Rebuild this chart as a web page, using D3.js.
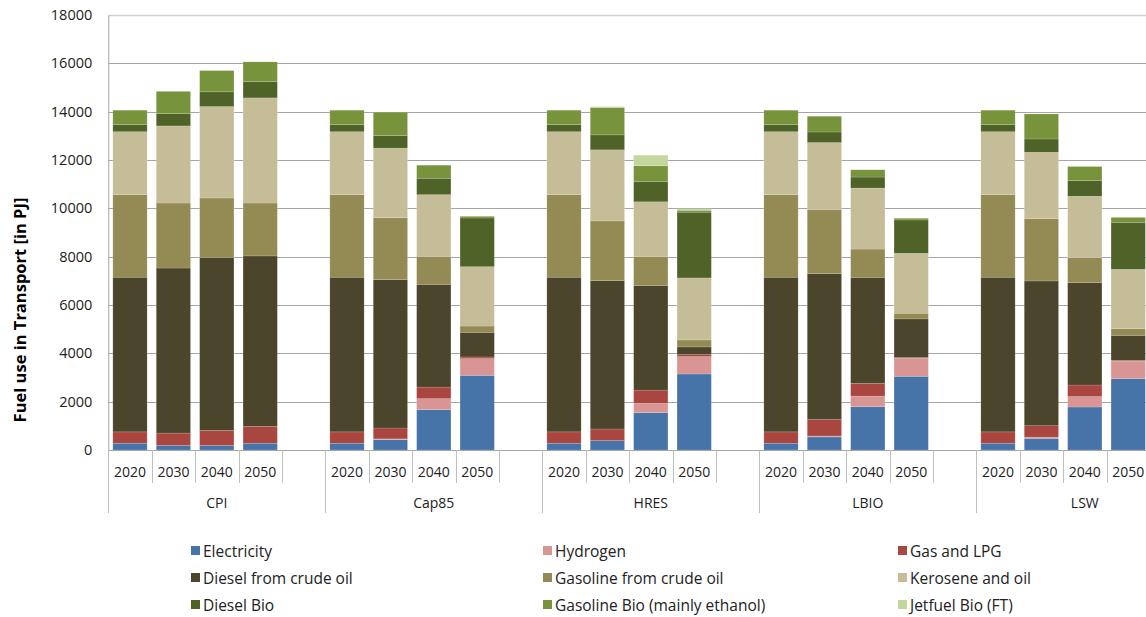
<!DOCTYPE html>
<html><head><meta charset="utf-8">
<script src="https://cdn.jsdelivr.net/npm/d3@7"></script>
<style>body{margin:0;background:#fff}svg{display:block;font-family:"Open Sans",sans-serif}</style>
</head><body><svg id="c" width="1146" height="617"></svg>
<script>
const scenarios = ["CPI","Cap85","HRES","LBIO","LSW"];
const years = ["2020","2030","2040","2050"];
const yTicks = [0,2000,4000,6000,8000,10000,12000,14000,16000,18000];
const seriesNames = ["Electricity","Hydrogen","Gas and LPG","Diesel from crude oil","Gasoline from crude oil","Kerosene and oil","Diesel Bio","Gasoline Bio (mainly ethanol)","Jetfuel Bio (FT)"];
const seriesColors = ["#4674a9","#d99594","#a9463f","#4b452c","#948a54","#c4bd97","#4f6228","#77933c","#c3d69b"];
// values in scenario-major order: CPI 2020..2050, Cap85 ..., HRES ..., LBIO ..., LSW ...
const electricity = [280,190,190,280, 280,430,1670,3090, 280,390,1545,3145, 280,540,1790,3050, 280,480,1780,2950];
const hydrogen    = [0,0,0,0, 0,30,455,690, 0,0,385,720, 0,40,440,745, 0,55,430,730];
const gasLPG      = [470,510,620,700, 470,450,480,70, 470,480,550,80, 470,680,525,30, 470,470,480,30];
const dieselCrude = [6400,6830,7160,7050, 6400,6140,4250,1020, 6400,6140,4330,320, 6400,6040,4390,1600, 6400,5990,4235,1035];
const gasolineCrude = [3420,2690,2460,2190, 3420,2570,1160,260, 3420,2470,1200,290, 3420,2660,1170,235, 3420,2580,1035,275];
const keroseneOil = [2600,3190,3780,4350, 2600,2870,2550,2455, 2600,2940,2260,2565, 2600,2760,2525,2480, 2600,2745,2540,2455];
const dieselBio   = [300,510,610,680, 300,520,680,2015, 300,620,830,2720, 300,440,455,1380, 300,550,650,1945];
const gasolineBio = [590,920,880,810, 590,970,540,70, 590,1130,660,80, 590,650,300,70, 590,1035,580,205];
const jetfuelBio  = [0,0,0,0, 0,0,0,0, 0,40,440,55, 0,0,0,0, 0,0,0,0];
const seriesValues = [electricity,hydrogen,gasLPG,dieselCrude,gasolineCrude,keroseneOil,dieselBio,gasolineBio,jetfuelBio];

const rows = [];
scenarios.forEach((s,si)=>years.forEach((y,yi)=>{
  const r = {key:s+"|"+y, scen:s, year:y};
  seriesNames.forEach((n,k)=>r[n]=seriesValues[k][si*4+yi]);
  rows.push(r);
}));
const slots = [];
scenarios.forEach(s=>{years.forEach(y=>slots.push(s+"|"+y)); slots.push(s+"|gap");});

const svg = d3.select("#c");
const x0 = 108.3, x1 = 1193.3, yTop = 15, yBot = 450;
const x = d3.scaleBand().domain(slots).range([x0,x1]).paddingInner(0.21).paddingOuter(0.105);
const step = x.step();
const y = d3.scaleLinear().domain([0,18000]).range([yBot,yTop]);

// gridlines
svg.append("g").selectAll("line").data(yTicks.filter(d=>d>0)).join("line")
  .attr("x1",x0).attr("x2",1146).attr("y1",d=>Math.round(y(d))+0.5).attr("y2",d=>Math.round(y(d))+0.5)
  .attr("stroke",d=>d===18000?"#d0d0d0":"#a6a6a6").attr("stroke-width",d=>d===18000?1.5:1);

// y axis
const yAxis = svg.append("g").attr("transform",`translate(${x0},0)`)
  .call(d3.axisLeft(y).tickValues(yTicks).tickSize(0).tickPadding(16).tickFormat(d3.format("d")));
yAxis.select(".domain").attr("stroke","#a6a6a6");
yAxis.selectAll("text").attr("font-size",14.5).attr("fill","#222").attr("font-family","'Open Sans',sans-serif");

// bars
const stack = d3.stack().keys(seriesNames)(rows);
svg.append("g").selectAll("g").data(stack).join("g")
  .attr("fill",(d,i)=>seriesColors[i])
  .selectAll("rect").data(d=>d.filter(p=>p[1]-p[0]>0)).join("rect")
  .attr("x",d=>x(d.data.key)).attr("width",x.bandwidth())
  .attr("y",d=>y(d[1])).attr("height",d=>y(d[0])-y(d[1]))
  .attr("stroke","#ffffff").attr("stroke-opacity",0.25).attr("stroke-width",0.6);

// baseline
svg.append("line").attr("x1",x0).attr("x2",1146).attr("y1",yBot+0.5).attr("y2",yBot+0.5).attr("stroke","#a6a6a6");

// category axis
const cat = svg.append("g");
const bounds = [];
scenarios.forEach((s,si)=>{
  const gStart = x0 + si*5*step;
  bounds.push({x:gStart, long:true});
  for(let k=1;k<=4;k++) bounds.push({x:gStart+k*step, long:false});
});
bounds.push({x:x0+25*step,long:true});
cat.selectAll("line").data(bounds).join("line")
  .attr("x1",d=>Math.round(d.x)+0.5).attr("x2",d=>Math.round(d.x)+0.5)
  .attr("y1",yBot).attr("y2",d=>d.long?513:483).attr("stroke","#bfbfbf");
cat.selectAll("text.yr").data(rows).join("text").attr("class","yr")
  .attr("x",d=>x(d.key)+x.bandwidth()/2).attr("y",477).attr("text-anchor","middle")
  .attr("font-size",14).attr("fill","#222").text(d=>d.year);
cat.selectAll("text.sc").data(scenarios).join("text").attr("class","sc")
  .attr("x",(d,i)=>x0+(i*5+2.5)*step).attr("y",508).attr("text-anchor","middle")
  .attr("font-size",14).attr("fill","#222").text(d=>d);

// y title
svg.append("text").attr("transform","translate(26,310) rotate(-90)").attr("text-anchor","middle")
  .attr("font-size",16.5).attr("font-weight","bold").attr("fill","#000").text("Fuel use in Transport  [in PJ]");

// legend
const legX = [191,543,898], legY = [551,578,605];
const leg = svg.append("g").selectAll("g").data(seriesNames).join("g")
  .attr("transform",(d,i)=>`translate(${legX[i%3]},${legY[Math.floor(i/3)]})`);
leg.append("rect").attr("x",0).attr("y",-5).attr("width",9).attr("height",9).attr("fill",(d,i)=>seriesColors[i]);
leg.append("text").attr("x",12).attr("y",5.5).attr("font-size",15.5).attr("fill","#222").text(d=>d);
</script></body></html>
